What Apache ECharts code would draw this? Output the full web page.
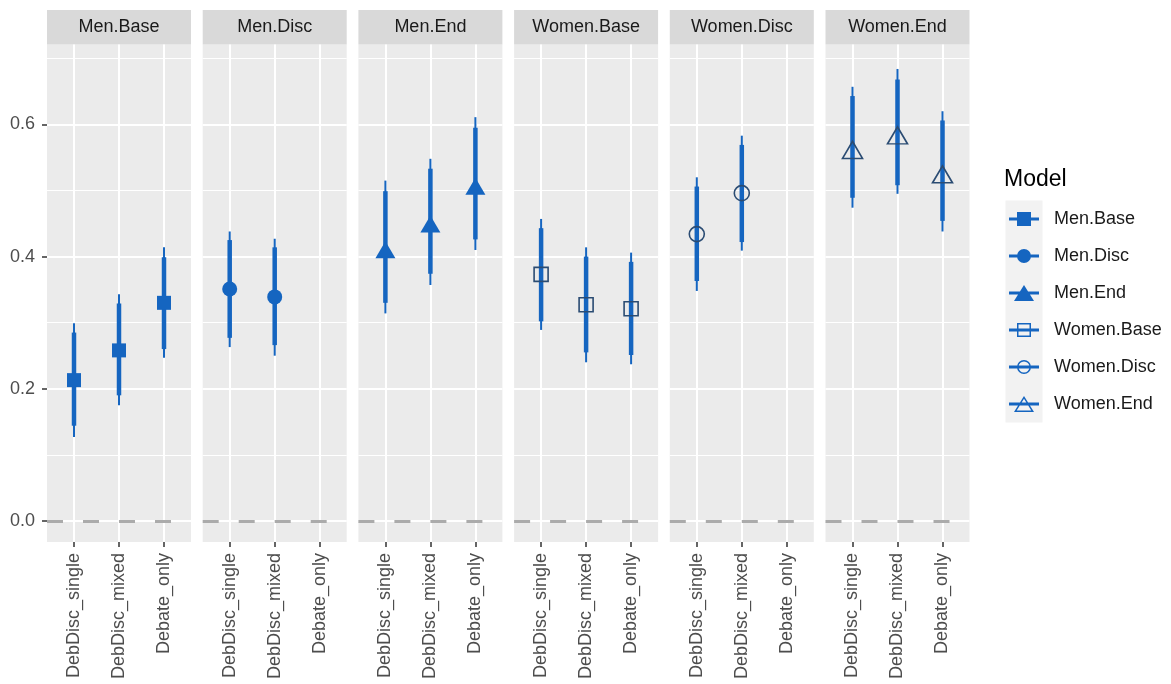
<!DOCTYPE html>
<html><head><meta charset="utf-8">
<script src="https://cdn.jsdelivr.net/npm/echarts@6/dist/echarts.min.js"></script>
<style>html,body{margin:0;padding:0;background:#fff}#c{width:1171px;height:684px}</style>
</head><body><div id="c"></div>
<script>
const models = ['Men.Base','Men.Disc','Men.End','Women.Base','Women.Disc','Women.End'];
const categories = ['DebDisc_single','DebDisc_mixed','Debate_only'];
const yTicks = [0, 0.2, 0.4, 0.6];
const yMinorTicks = [0.1, 0.3, 0.5, 0.7];
const xTicks = [1, 2, 3];

// point estimates per model (rows) and category (columns)
const estimate = [
  [0.213, 0.258, 0.330],
  [0.351, 0.339, null],
  [0.415, 0.454, 0.511],
  [0.373, 0.327, 0.321],
  [0.434, 0.496, null],
  [0.566, 0.588, 0.529]
];
// outer (thin) interval
const outerLow = [
  [0.127, 0.175, 0.247],
  [0.263, 0.250, null],
  [0.314, 0.357, 0.410],
  [0.289, 0.240, 0.237],
  [0.348, 0.409, null],
  [0.474, 0.495, 0.438]
];
const outerHigh = [
  [0.299, 0.343, 0.414],
  [0.438, 0.427, null],
  [0.515, 0.548, 0.611],
  [0.457, 0.414, 0.406],
  [0.520, 0.583, null],
  [0.657, 0.684, 0.620]
];
// inner (thick) interval
const innerLow = [
  [0.144, 0.190, 0.260],
  [0.277, 0.266, null],
  [0.330, 0.374, 0.426],
  [0.302, 0.255, 0.251],
  [0.363, 0.422, null],
  [0.489, 0.508, 0.454]
];
const innerHigh = [
  [0.285, 0.329, 0.399],
  [0.425, 0.414, null],
  [0.499, 0.533, 0.595],
  [0.443, 0.400, 0.392],
  [0.506, 0.569, null],
  [0.643, 0.668, 0.606]
];

const FONT = 'Liberation Sans';
const FS = 18;
const BLUE = '#1565C0';
const DARK = '#2B4C73';
const Y_MIN = -0.032, Y_MAX = 0.721;

const symbols = ['rect','circle','triangle','rect','circle','triangle'];
const symbolSizes = [14, 15, [20, 17], 14, 15, [20, 17]];
const symbolOffsets = [[0,0],[0,0],[0,3],[0,0],[0,0],[0,3]];
const hollow = [false,false,false,true,true,true];

const LINE = 'M0 7.5H30V10.5H0Z ';
const legendIcons = [
  'path://' + LINE + 'M8 2H22V16H8Z',
  'path://' + LINE + 'M8 9A7 7 0 1 1 22 9A7 7 0 1 1 8 9Z',
  'path://' + LINE + 'M15 1L25 17H5Z',
  'path://' + LINE + 'M8 2H22V16H8Z M9.5 3.5V14.5H20.5V3.5Z',
  'path://' + LINE + 'M8 9A7 7 0 1 1 22 9A7 7 0 1 1 8 9Z M9.5 9A5.5 5.5 0 1 0 20.5 9A5.5 5.5 0 1 0 9.5 9Z',
  'path://' + LINE + 'M15 1L25 17H5Z M15 3.8L7.7 15.5H22.3Z'
];

// layout
const PANEL_LEFT0 = 47, PANEL_STEP = 155.7, PANEL_W = 144;
const PANEL_TOP = 44.5, PANEL_BOTTOM = 542;
const STRIP_TOP = 10;

const grids = [], xAxes = [], yAxes = [], series = [], graphics = [];

models.forEach((m, i) => {
  const left = PANEL_LEFT0 + i * PANEL_STEP;
  grids.push({left: left, top: PANEL_TOP, width: PANEL_W, height: PANEL_BOTTOM - PANEL_TOP,
    show: true, backgroundColor: '#EBEBEB', borderWidth: 0, containLabel: false});
  xAxes.push({
    gridIndex: i, type: 'value', min: 0.4, max: 3.6, position: 'bottom',
    axisLine: {show: false, onZero: false},
    axisTick: {show: true, customValues: xTicks, length: 5, lineStyle: {color: '#333333', width: 1.5}},
    axisLabel: {show: true, customValues: xTicks, formatter: v => categories[Math.round(v) - 1],
      rotate: 90, margin: 11, fontSize: FS, color: '#4D4D4D', fontFamily: FONT},
    splitLine: {show: true, lineStyle: {color: '#FFFFFF', width: 2}}
  });
  yAxes.push({
    gridIndex: i, type: 'value', min: Y_MIN, max: Y_MAX, position: 'left',
    axisLine: {show: false, onZero: false},
    axisTick: {show: i === 0, customValues: yTicks, length: 5, lineStyle: {color: '#333333', width: 1.5}},
    axisLabel: {show: i === 0, customValues: yTicks, formatter: v => v.toFixed(1), margin: 12,
      fontSize: FS, color: '#4D4D4D', fontFamily: FONT},
    splitLine: {show: true, lineStyle: {color: '#FFFFFF', width: 2}}
  });
  yAxes.push({
    gridIndex: i, type: 'value', min: Y_MIN, max: Y_MAX, position: 'left',
    axisLine: {show: false, onZero: false},
    axisTick: {show: false, customValues: yMinorTicks},
    axisLabel: {show: false, customValues: yMinorTicks},
    splitLine: {show: true, lineStyle: {color: '#FFFFFF', width: 1}}
  });

  const barData = [];
  const pointData = [];
  categories.forEach((c, j) => {
    if (estimate[i][j] == null) return;
    barData.push([j + 1, outerLow[i][j], outerHigh[i][j], innerLow[i][j], innerHigh[i][j]]);
    pointData.push([j + 1, estimate[i][j]]);
  });

  series.push({
    type: 'custom', name: m + ' CI', xAxisIndex: i, yAxisIndex: 2 * i, silent: true, z: 2,
    encode: {x: 0, y: [1, 2, 3, 4]},
    data: barData,
    renderItem: (params, api) => {
      const x = api.value(0);
      const a = api.coord([x, api.value(1)]);
      const b = api.coord([x, api.value(2)]);
      const c = api.coord([x, api.value(3)]);
      const d = api.coord([x, api.value(4)]);
      return {type: 'group', children: [
        {type: 'line', shape: {x1: a[0], y1: a[1], x2: b[0], y2: b[1]}, style: {stroke: BLUE, lineWidth: 2}},
        {type: 'line', shape: {x1: c[0], y1: c[1], x2: d[0], y2: d[1]}, style: {stroke: BLUE, lineWidth: 4.5}}
      ]};
    }
  });

  series.push({
    type: 'scatter', name: m, xAxisIndex: i, yAxisIndex: 2 * i, z: 3,
    symbol: symbols[i], symbolSize: symbolSizes[i], symbolOffset: symbolOffsets[i],
    itemStyle: hollow[i]
      ? {color: 'rgba(0,0,0,0)', borderColor: DARK, borderWidth: 1.6, opacity: 1}
      : {color: BLUE, borderWidth: 0, opacity: 1},
    emphasis: {disabled: true},
    data: pointData,
    markLine: {
      silent: true, symbol: 'none', label: {show: false}, animation: false,
      lineStyle: {color: '#ABABAB', width: 3, type: [16, 20]},
      data: [{yAxis: 0}]
    }
  });

  graphics.push({
    type: 'rect', shape: {x: left, y: STRIP_TOP, width: PANEL_W, height: PANEL_TOP - STRIP_TOP},
    style: {fill: '#D9D9D9'}, silent: true
  });
  graphics.push({
    type: 'text', x: left + PANEL_W / 2, y: (STRIP_TOP + PANEL_TOP) / 2, silent: true,
    style: {text: m, fill: '#1A1A1A', font: FS + 'px "' + FONT + '"', align: 'center', verticalAlign: 'middle'}
  });
});

// legend key background
graphics.push({
  type: 'rect', shape: {x: 1005.5, y: 200.5, width: 37, height: 222}, style: {fill: '#F2F2F2'}, silent: true, z: -1
});

const chart = echarts.init(document.getElementById('c'), null, {renderer: 'canvas'});
chart.setOption({
  animation: false,
  backgroundColor: '#FFFFFF',
  title: {text: 'Model', left: 1004, top: 168, padding: 0,
    textStyle: {fontSize: 23, fontWeight: 'normal', color: '#000000', fontFamily: FONT}},
  legend: {
    orient: 'vertical', left: 1009, top: 210, padding: 0,
    itemWidth: 30, itemHeight: 18, itemGap: 19, selectedMode: false,
    textStyle: {fontSize: FS, color: '#1A1A1A', fontFamily: FONT, padding: [0, 0, 0, 10]},
    data: models.map((m, i) => ({name: m, icon: legendIcons[i], itemStyle: {color: BLUE, borderWidth: 0, opacity: 1}}))
  },
  grid: grids,
  xAxis: xAxes,
  yAxis: yAxes,
  graphic: graphics,
  series: series
});
</script>
</body></html>
